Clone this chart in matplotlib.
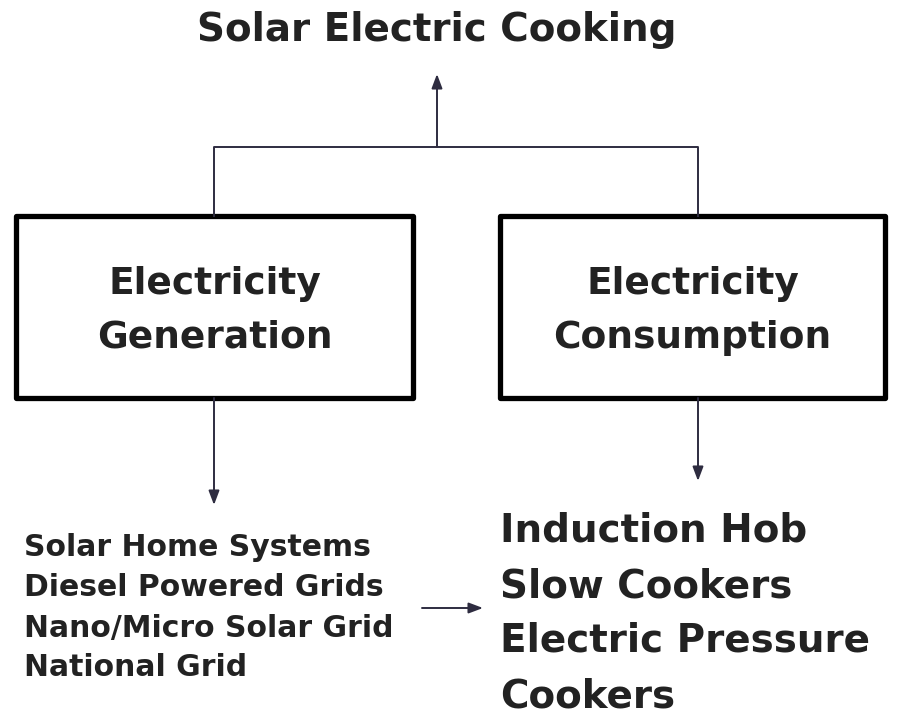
import matplotlib.pyplot as plt
from matplotlib.patches import Rectangle

title = "Solar Electric Cooking"
box_labels = ["Electricity\nGeneration", "Electricity\nConsumption"]
generation_items = ["Solar Home Systems", "Diesel Powered Grids", "Nano/Micro Solar Grid", "National Grid"]
consumption_items = ["Induction Hob", "Slow Cookers", "Electric Pressure", "Cookers"]

W, H = 903, 714
fig = plt.figure(figsize=(W / 100, H / 100), dpi=100)
ax = fig.add_axes([0, 0, 1, 1])
ax.set_xlim(0, W)
ax.set_ylim(H, 0)
ax.axis("off")

FONT = "DejaVu Sans"
TXT = "#222222"
LINE = "#2e2c40"

ax.text(437, 30, title, ha="center", va="center", fontsize=28, fontweight="bold", family=FONT, color=TXT)

# boxes
boxes = [(16, 216, 397, 182), (500, 216, 385, 182)]
for (x, y, w, h), lab in zip(boxes, box_labels):
    ax.add_patch(Rectangle((x, y), w, h, fill=False, lw=3.8, ec="black", joinstyle="round"))
    ax.text(x + w / 2, y + h / 2 + 4, lab, ha="center", va="center", fontsize=27, fontweight="bold",
            family=FONT, color=TXT, linespacing=1.62)

# connectors
ax.plot([214, 214, 698, 698], [216, 147, 147, 216], color=LINE, lw=1.4)
arrow = dict(arrowstyle="-|>,head_length=0.85,head_width=0.32", color=LINE, lw=1.4, shrinkA=0, shrinkB=0)
ax.annotate("", xy=(437, 74), xytext=(437, 147), arrowprops=arrow)
ax.annotate("", xy=(214, 505), xytext=(214, 398), arrowprops=arrow)
ax.annotate("", xy=(698, 481), xytext=(698, 398), arrowprops=arrow)
ax.annotate("", xy=(483, 608), xytext=(422, 608), arrowprops=arrow)

# lists
gy = [548, 587, 628, 668]
for s, y in zip(generation_items, gy):
    ax.text(24, y, s, ha="left", va="center", fontsize=21.5, fontweight="bold", family=FONT, color=TXT)
cy = [531, 586, 641, 696]
for s, y in zip(consumption_items, cy):
    ax.text(500, y, s, ha="left", va="center", fontsize=28, fontweight="bold", family=FONT, color=TXT)

fig.savefig("out.png", dpi=100)
